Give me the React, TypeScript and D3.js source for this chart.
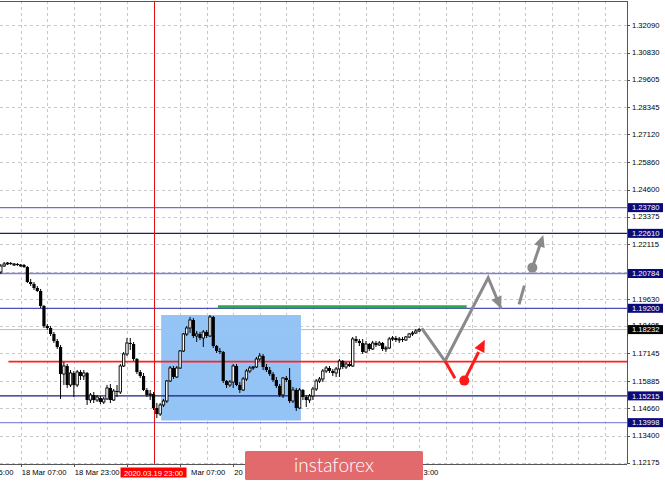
import React from 'react';
import * as d3 from 'd3';

// Hourly EURUSD-like candles (bar index 0 = 18 Mar 01:00)
const OPEN = [
  1.20852, 1.21125, 1.21216, 1.21262, 1.21216, 1.21216, 1.21171, 1.21171, 1.21080, 1.20397,
  1.20306, 1.20124, 1.19988, 1.19305, 1.18395, 1.18304, 1.18031, 1.17713, 1.17440, 1.16211,
  1.16575, 1.15711, 1.16257, 1.15711, 1.16302, 1.16120, 1.16257, 1.15028, 1.15256, 1.15028,
  1.15119, 1.14937, 1.15074, 1.15574, 1.15028, 1.15438, 1.15392, 1.16575, 1.17121, 1.17622,
  1.17576, 1.16894, 1.16302, 1.16120, 1.15483, 1.15256, 1.15301, 1.14664, 1.14391, 1.14801,
  1.14983, 1.15893, 1.16484, 1.16075, 1.16484, 1.17258, 1.18031, 1.18304, 1.18668, 1.17940,
  1.18031, 1.17849, 1.18122, 1.17940, 1.18805, 1.17485, 1.17258, 1.17212, 1.15893, 1.15711,
  1.15847, 1.16575, 1.15711, 1.15483, 1.15984, 1.16348, 1.16484, 1.16530, 1.16894, 1.17030,
  1.16530, 1.16393, 1.16211, 1.15938, 1.15665, 1.15256, 1.16029, 1.15938, 1.14983, 1.15483,
  1.14664, 1.15483, 1.15165, 1.15028, 1.15210, 1.15529, 1.15893, 1.15984, 1.16348, 1.16484,
  1.16348, 1.16257, 1.16439, 1.16803, 1.16530, 1.16666, 1.16575, 1.17804, 1.17713, 1.17622,
  1.17212, 1.17576, 1.17349, 1.17622, 1.17531, 1.17622, 1.17349, 1.17394, 1.17804, 1.17849,
  1.17758, 1.17804, 1.17758, 1.17895, 1.18031, 1.18077, 1.18168,
];
const HIGH = [
  1.21216, 1.21307, 1.21307, 1.21307, 1.21262, 1.21262, 1.21216, 1.21216, 1.21125, 1.20534,
  1.20397, 1.20215, 1.20079, 1.19351, 1.18486, 1.18395, 1.18122, 1.17804, 1.17531, 1.16757,
  1.16666, 1.16393, 1.16348, 1.16393, 1.16393, 1.16393, 1.16302, 1.15347, 1.15392, 1.15256,
  1.15210, 1.15165, 1.15711, 1.15756, 1.15529, 1.15711, 1.16666, 1.17212, 1.17849, 1.17849,
  1.17667, 1.16939, 1.16393, 1.16257, 1.15574, 1.15483, 1.15392, 1.14892, 1.14892, 1.15074,
  1.15938, 1.16575, 1.16575, 1.16575, 1.17303, 1.18077, 1.18395, 1.18805, 1.18759, 1.18168,
  1.18122, 1.18213, 1.18213, 1.18896, 1.18850, 1.17531, 1.17394, 1.17258, 1.15938, 1.15938,
  1.16666, 1.16666, 1.15847, 1.16075, 1.16439, 1.16575, 1.16575, 1.16985, 1.17167, 1.17121,
  1.16666, 1.16530, 1.16302, 1.16075, 1.15756, 1.16075, 1.16120, 1.16484, 1.15620, 1.15574,
  1.15574, 1.15529, 1.15256, 1.15301, 1.15620, 1.15984, 1.16075, 1.16439, 1.16575, 1.16575,
  1.16439, 1.16530, 1.16894, 1.16848, 1.16757, 1.16757, 1.17895, 1.17940, 1.17804, 1.17804,
  1.17713, 1.17622, 1.17713, 1.17713, 1.17713, 1.17667, 1.17485, 1.17895, 1.17940, 1.17940,
  1.17895, 1.17895, 1.17940, 1.18077, 1.18168, 1.18259, 1.18304,
];
const LOW = [
  1.20761, 1.21080, 1.21171, 1.21171, 1.21125, 1.21125, 1.21080, 1.21034, 1.20352, 1.20215,
  1.20033, 1.19942, 1.19214, 1.18304, 1.18213, 1.17940, 1.17622, 1.17349, 1.15074, 1.15711,
  1.15574, 1.15620, 1.15165, 1.15620, 1.15938, 1.15938, 1.14801, 1.14892, 1.14892, 1.14937,
  1.14846, 1.14846, 1.15028, 1.14892, 1.14983, 1.15165, 1.15301, 1.16530, 1.17030, 1.17303,
  1.16803, 1.16211, 1.16029, 1.15438, 1.15165, 1.15028, 1.14573, 1.14209, 1.14300, 1.14710,
  1.14892, 1.15847, 1.15984, 1.16029, 1.16439, 1.17212, 1.17940, 1.18077, 1.17849, 1.17667,
  1.17758, 1.17440, 1.17849, 1.17895, 1.17394, 1.17167, 1.17121, 1.15802, 1.15574, 1.15620,
  1.15574, 1.15665, 1.15347, 1.15438, 1.15893, 1.16257, 1.16393, 1.16484, 1.16803, 1.16393,
  1.16302, 1.16120, 1.15847, 1.15574, 1.15165, 1.15119, 1.15847, 1.14892, 1.14892, 1.14528,
  1.14619, 1.15028, 1.14710, 1.14892, 1.15028, 1.15438, 1.15802, 1.15847, 1.16257, 1.16257,
  1.16120, 1.16075, 1.16075, 1.16439, 1.16439, 1.16530, 1.16530, 1.17622, 1.17485, 1.17121,
  1.17167, 1.17258, 1.17303, 1.17440, 1.17485, 1.17258, 1.17212, 1.17349, 1.17713, 1.17667,
  1.17622, 1.17667, 1.17713, 1.17849, 1.17940, 1.18031, 1.18122,
];
const CLOSE = [
  1.21125, 1.21216, 1.21262, 1.21216, 1.21216, 1.21171, 1.21171, 1.21080, 1.20397, 1.20306,
  1.20124, 1.19988, 1.19305, 1.18395, 1.18304, 1.18031, 1.17713, 1.17440, 1.16211, 1.16575,
  1.15711, 1.16257, 1.15711, 1.16302, 1.16120, 1.16257, 1.15028, 1.15256, 1.15028, 1.15165,
  1.14937, 1.15074, 1.15574, 1.15028, 1.15438, 1.15392, 1.16575, 1.17121, 1.17622, 1.17576,
  1.16894, 1.16302, 1.16120, 1.15483, 1.15256, 1.15301, 1.14664, 1.14391, 1.14801, 1.14983,
  1.15893, 1.16484, 1.16075, 1.16484, 1.17258, 1.18031, 1.18304, 1.18668, 1.17940, 1.18031,
  1.17849, 1.18122, 1.17940, 1.18805, 1.17485, 1.17258, 1.17212, 1.15893, 1.15711, 1.15847,
  1.16575, 1.15711, 1.15483, 1.15984, 1.16348, 1.16484, 1.16530, 1.16894, 1.17030, 1.16530,
  1.16393, 1.16211, 1.15938, 1.15665, 1.15256, 1.16029, 1.15938, 1.14983, 1.15483, 1.14664,
  1.15483, 1.15165, 1.15028, 1.15210, 1.15529, 1.15893, 1.15984, 1.16348, 1.16484, 1.16348,
  1.16257, 1.16439, 1.16803, 1.16530, 1.16666, 1.16575, 1.17804, 1.17713, 1.17622, 1.17212,
  1.17576, 1.17349, 1.17622, 1.17531, 1.17622, 1.17349, 1.17394, 1.17804, 1.17849, 1.17758,
  1.17804, 1.17758, 1.17895, 1.18031, 1.18077, 1.18168, 1.18232,
];

const Y_TICKS = [1.3209, 1.3083, 1.29605, 1.28345, 1.2712, 1.2586, 1.246, 1.23375, 1.22115, 1.20855, 1.1963, 1.18405, 1.17145, 1.15885, 1.1466, 1.134, 1.12175];
const Y_TICK_LABELS = ['1.32090', '1.30830', '1.29605', '1.28345', '1.27120', '1.25860', '1.24600', '1.23375', '1.22115', '', '1.19630', '1.18405', '1.17145', '1.15885', '1.14660', '1.13400', '1.12175'];

// time-axis ticks (bar index) and the part of each label left visible (others sit under the marker box / logo)
const TIME_TICKS = [-10, 6, 22, 38, 54, 70, 86, 102, 118];
const TIME_LABELS = ['17 Mar 15:00', '18 Mar 07:00', '18 Mar 23:00', '', 'Mar 07:00', '20', '', '', '3:00'];
const TIME_LABEL_SHIFT = [1, 1, 1, 1, 11, 1, 1, 1, 31];

const LEVELS = [1.2378, 1.2261, 1.20784, 1.192, 1.15215, 1.13998];
const LEVEL_LABELS = ['1.23780', '1.22610', '1.20784', '1.19200', '1.15215', '1.13998'];
const LEVEL_COLORS = ['#7070c8', '#1e1e70', '#8080d8', '#5050b8', '#1a1a80', '#8a8ae0'];
const CURRENT_PRICE = 1.18232;
const CURRENT_LABEL = '1.18232';
const RED_LEVEL = 1.1677;
const RED_LEVEL_START = 2.3;
const GREEN_LEVEL = 1.1927;
const GREEN_RANGE = [65.4, 140.3];
const ZONE_BARS = [48.3, 90.4];
const ZONE_PRICES = [1.18895, 1.14096];
const MARKER_BAR = 46;
const MARKER_LABEL = '2020.03.19 23:00';

// forecast drawings: [bar index, price]
const GRAY_PATH = [[126.8, 1.1829], [133.8, 1.168], [146.8, 1.2059], [150.7, 1.1918]];
const GRAY_DASH = [[156.1, 1.1938], [157.7, 1.2023]];
const GRAY_DOT_ARROW = [[160.1, 1.2105], [163.4, 1.2254]];
const RED_PATH = [[133.8, 1.168], [136.8, 1.1602]];
const RED_DOT_ARROW = [[139.6, 1.1591], [145.8, 1.1777]];

function arrowHead(x1: number, y1: number, x2: number, y2: number, len = 11, half = 5) {
  const dx = x2 - x1, dy = y2 - y1;
  const L = Math.hypot(dx, dy);
  const ux = dx / L, uy = dy / L;
  const bx = x2 - ux * len, by = y2 - uy * len;
  return `${x2},${y2} ${bx - uy * half},${by + ux * half} ${bx + uy * half},${by - ux * half}`;
}

export default function App() {
  const W = 665, H = 482;
  const plotRight = 627, plotTop = 1, plotBottom = 464;
  const x = d3.scaleLinear().domain([0, 1]).range([0.8, 4.12]);
  const y = d3.scaleLinear().domain([1.12175, 1.3209]).range([462.7, 25]);
  const font = 'Liberation Sans, Arial, sans-serif';
  const line = d3.line<number[]>().x((d) => x(d[0])).y((d) => y(d[1]));

  const gridX = d3.range(6, 400, 8).filter((i) => x(i) < plotRight - 2);

  const seg = (pts: number[][]) => {
    const [a, b] = pts;
    return { x1: x(a[0]), y1: y(a[1]), x2: x(b[0]), y2: y(b[1]) };
  };
  const gArrow = seg(GRAY_DOT_ARROW);
  const rArrow = seg(RED_DOT_ARROW);
  const gLast = seg(GRAY_PATH.slice(-2));

  return (
    <svg width={W} height={H} style={{ position: 'absolute', left: 0, top: 0, background: '#fff' }}>
      <rect x={0} y={0} width={W} height={H} fill="#fff" />
      {/* grid */}
      {Y_TICKS.map((t, i) => (
        <line key={'gy' + i} x1={0} x2={plotRight} y1={Math.round(y(t)) + 0.5} y2={Math.round(y(t)) + 0.5} stroke="#c8c8c8" strokeDasharray="3,3" />
      ))}
      {gridX.map((i) => (
        <line key={'gx' + i} x1={Math.round(x(i)) + 0.5} x2={Math.round(x(i)) + 0.5} y1={plotTop} y2={plotBottom} stroke="#c8c8c8" strokeDasharray="3,3" />
      ))}
      {/* zone rectangle */}
      <rect x={x(ZONE_BARS[0])} y={y(ZONE_PRICES[0])} width={x(ZONE_BARS[1]) - x(ZONE_BARS[0])} height={y(ZONE_PRICES[1]) - y(ZONE_PRICES[0])} fill="#94c4f6" />
      {/* levels */}
      {LEVELS.map((p, i) => (
        <line key={'lv' + i} x1={0} x2={plotRight} y1={y(p)} y2={y(p)} stroke={LEVEL_COLORS[i]} strokeWidth={1.3} />
      ))}
      <line x1={0} x2={plotRight} y1={y(CURRENT_PRICE)} y2={y(CURRENT_PRICE)} stroke="#bdbdbd" strokeWidth={1} />
      <line x1={x(RED_LEVEL_START)} x2={plotRight} y1={y(RED_LEVEL)} y2={y(RED_LEVEL)} stroke="#ff2020" strokeWidth={1.8} />
      <line x1={x(GREEN_RANGE[0])} x2={x(GREEN_RANGE[1])} y1={y(GREEN_LEVEL)} y2={y(GREEN_LEVEL)} stroke="#2ca84a" strokeWidth={3} />
      {/* marker vertical line */}
      <line x1={Math.round(x(MARKER_BAR)) + 0.5} x2={Math.round(x(MARKER_BAR)) + 0.5} y1={plotTop} y2={plotBottom} stroke="#e01010" strokeWidth={1} />
      {/* candles */}
      {OPEN.map((o, i) => {
        const c = CLOSE[i];
        const cx = x(i);
        const bull = c >= o;
        const top = y(Math.max(o, c));
        const bot = y(Math.min(o, c));
        const h = Math.max(bot - top, 1);
        return (
          <g key={'c' + i}>
            <line x1={cx} x2={cx} y1={y(HIGH[i])} y2={y(LOW[i])} stroke="#000" strokeWidth={1} />
            {bull ? (
              <rect x={cx - 1.2} y={top} width={2.4} height={h} fill="#fff" stroke="#000" strokeWidth={0.9} />
            ) : (
              <rect x={cx - 1.6} y={top} width={3.2} height={h} fill="#000" />
            )}
          </g>
        );
      })}
      {/* forecast */}
      <path d={line(GRAY_PATH as any) || ''} fill="none" stroke="#8a8a8a" strokeWidth={3} strokeLinejoin="miter" />
      <polygon points={arrowHead(gLast.x1, gLast.y1, gLast.x2, gLast.y2, 12, 5.5)} fill="#8a8a8a" />
      <path d={line(GRAY_DASH as any) || ''} fill="none" stroke="#8a8a8a" strokeWidth={3} />
      <line x1={gArrow.x1} y1={gArrow.y1} x2={gArrow.x2 - (gArrow.x2 - gArrow.x1) * 0.3} y2={gArrow.y2 - (gArrow.y2 - gArrow.y1) * 0.3} stroke="#8a8a8a" strokeWidth={3} />
      <polygon points={arrowHead(gArrow.x1, gArrow.y1, gArrow.x2, gArrow.y2, 12, 5.5)} fill="#8a8a8a" />
      <circle cx={gArrow.x1} cy={gArrow.y1} r={5} fill="#8a8a8a" />
      <path d={line(RED_PATH as any) || ''} fill="none" stroke="#ff1a1a" strokeWidth={3} />
      <line x1={rArrow.x1} y1={rArrow.y1} x2={rArrow.x2 - (rArrow.x2 - rArrow.x1) * 0.3} y2={rArrow.y2 - (rArrow.y2 - rArrow.y1) * 0.3} stroke="#ff1a1a" strokeWidth={3} />
      <polygon points={arrowHead(rArrow.x1, rArrow.y1, rArrow.x2, rArrow.y2, 12, 5.5)} fill="#ff1a1a" />
      <circle cx={rArrow.x1} cy={rArrow.y1} r={5} fill="#ff1a1a" />
      {/* frame */}
      <line x1={0} x2={plotRight} y1={plotTop + 0.5} y2={plotTop + 0.5} stroke="#555" />
      <line x1={plotRight + 0.5} x2={plotRight + 0.5} y1={plotTop} y2={plotBottom} stroke="#555" />
      <line x1={0} x2={plotRight} y1={plotBottom + 0.5} y2={plotBottom + 0.5} stroke="#555" />
      {/* right axis labels */}
      {Y_TICKS.map((t, i) => (
        <g key={'yl' + i}>
          <line x1={plotRight} x2={plotRight + 3} y1={Math.round(y(t)) + 0.5} y2={Math.round(y(t)) + 0.5} stroke="#555" />
          {Y_TICK_LABELS[i] && (
            <text x={632} y={y(t)} dy="0.35em" fontFamily={font} fontSize={7.6} fill="#000">{Y_TICK_LABELS[i]}</text>
          )}
        </g>
      ))}
      {LEVELS.map((p, i) => (
        <g key={'lb' + i}>
          <rect x={628} y={y(p) - 4.5} width={35} height={9} fill="#0a0a78" />
          <text x={632} y={y(p)} dy="0.35em" fontFamily={font} fontSize={7.6} fill="#fff">{LEVEL_LABELS[i]}</text>
        </g>
      ))}
      <rect x={628} y={y(CURRENT_PRICE) - 4.5} width={35} height={9} fill="#000" />
      <text x={632} y={y(CURRENT_PRICE)} dy="0.35em" fontFamily={font} fontSize={7.6} fill="#fff">{CURRENT_LABEL}</text>
      {/* time axis */}
      {TIME_TICKS.map((t, i) => (
        <g key={'tl' + i}>
          <line x1={Math.round(x(t)) + 0.5} x2={Math.round(x(t)) + 0.5} y1={plotBottom} y2={plotBottom + 3} stroke="#555" />
          {TIME_LABELS[i] && (
            <text x={x(t) + TIME_LABEL_SHIFT[i]} y={475} fontFamily={font} fontSize={7.6} fill="#000">{TIME_LABELS[i]}</text>
          )}
        </g>
      ))}
      <rect x={x(MARKER_BAR) - 33} y={467.5} width={66} height={10} fill="#ff0000" />
      <text x={x(MARKER_BAR)} y={475.5} textAnchor="middle" fontFamily={font} fontSize={7.6} fill="#fff">{MARKER_LABEL}</text>
      {/* logo */}
      <rect x={245} y={451} width={178} height={29} rx={1.5} fill="#e36a6c" />
      <text x={334} y={472} textAnchor="middle" fontFamily="Lato, 'Open Sans', sans-serif" fontWeight={300} fontSize={19} fill="#fff">instaforex</text>
    </svg>
  );
}
